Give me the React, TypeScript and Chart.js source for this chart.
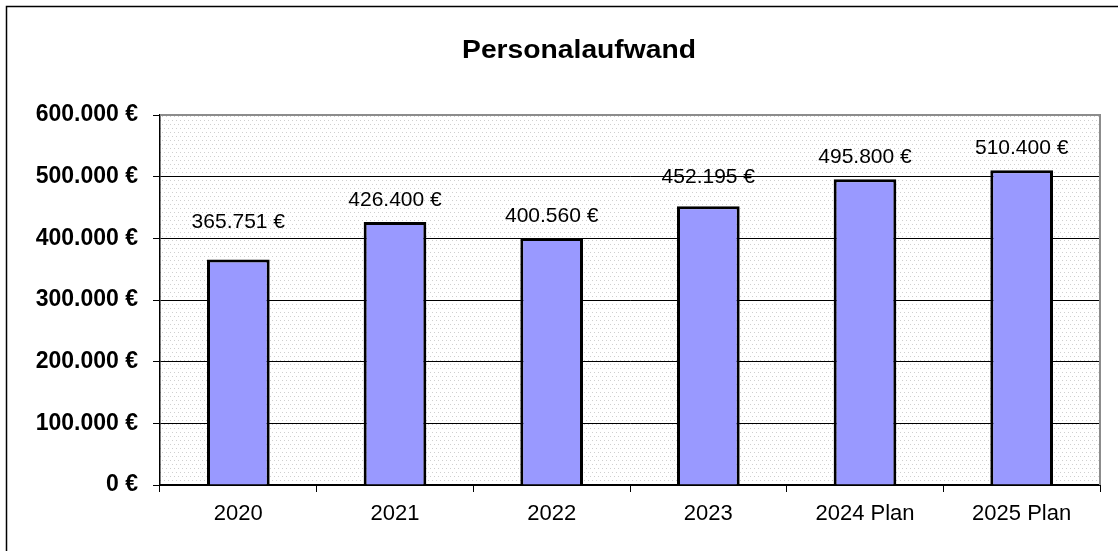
import React, { useEffect, useRef } from "react";
import { Chart, registerables } from "chart.js";

Chart.register(...registerables);

const FONT = "'Liberation Sans', Arial, sans-serif";

const title = "Personalaufwand";
const categories = ["2020", "2021", "2022", "2023", "2024 Plan", "2025 Plan"];
const values = [365751, 426400, 400560, 452195, 495800, 510400];
const yTickValues = [0, 100000, 200000, 300000, 400000, 500000, 600000];
// vertical distance (px) between bar top and label baseline, as placed in the original
const labelLift = [31, 16, 16, 23, 16.5, 16];

function euro(v: number): string {
  const s = String(Math.round(v)).replace(/\B(?=(\d{3})+(?!\d))/g, ".");
  return s + " €";
}

function makePattern(ctx: CanvasRenderingContext2D): CanvasPattern | string {
  const c = document.createElement("canvas");
  c.width = 8;
  c.height = 8;
  const p = c.getContext("2d");
  if (!p) return "#fff";
  p.fillStyle = "#ffffff";
  p.fillRect(0, 0, 8, 8);
  p.fillStyle = "#cfcfcf";
  const dots = [
    [0, 0],
    [4, 0],
    [2, 4],
    [6, 4],
  ];
  dots.forEach(([x, y]) => p.fillRect(x, y, 1, 1));
  return ctx.createPattern(c, "repeat") || "#fff";
}

const framePlugin = {
  id: "frameAndLabels",
  beforeDraw(chart: any) {
    const { ctx, chartArea, width, height } = chart;
    ctx.save();
    ctx.fillStyle = "#ffffff";
    ctx.fillRect(0, 0, width, height);
    ctx.fillStyle = makePattern(ctx);
    ctx.fillRect(chartArea.left, chartArea.top, chartArea.right - chartArea.left, chartArea.bottom - chartArea.top);
    ctx.restore();
  },
  afterDatasetsDraw(chart: any) {
    const { ctx, chartArea } = chart;
    ctx.save();
    // value labels
    const meta = chart.getDatasetMeta(0);
    ctx.fillStyle = "#000";
    ctx.font = `21px ${FONT}`;
    ctx.textAlign = "center";
    ctx.textBaseline = "alphabetic";
    meta.data.forEach((el: any, i: number) => {
      ctx.fillText(euro(values[i]), el.x, el.y - labelLift[i]);
    });
    // top and right plot border (grey)
    ctx.strokeStyle = "#8c8c8c";
    ctx.lineWidth = 2;
    ctx.beginPath();
    ctx.moveTo(chartArea.left, chartArea.top);
    ctx.lineTo(chartArea.right, chartArea.top);
    ctx.lineTo(chartArea.right, chartArea.bottom);
    ctx.stroke();
    // outer frame (extends past the picture on the right and bottom)
    ctx.strokeStyle = "#000";
    ctx.lineWidth = 1.5;
    ctx.beginPath();
    ctx.moveTo(6.5, chart.height);
    ctx.lineTo(6.5, 6.5);
    ctx.lineTo(chart.width, 6.5);
    ctx.stroke();
    // title
    ctx.font = `bold 25px ${FONT}`;
    ctx.textAlign = "center";
    ctx.translate(579, 58);
    ctx.scale(1.13, 1);
    ctx.fillText(title, 0, 0);
    ctx.restore();
  },
};

export default function App() {
  const ref = useRef<HTMLCanvasElement | null>(null);

  useEffect(() => {
    if (!ref.current) return;
    const chart = new Chart(ref.current, {
      type: "bar",
      data: {
        labels: categories,
        datasets: [
          {
            data: values,
            backgroundColor: "#9999FF",
            borderColor: "#000000",
            borderWidth: 3,
            barPercentage: 0.4,
            categoryPercentage: 1,
          },
        ],
      },
      options: {
        responsive: false,
        animation: false,
        devicePixelRatio: 1,
        layout: { padding: { left: 0, right: 18, top: 115, bottom: 0 } },
        plugins: {
          legend: { display: false },
          tooltip: { enabled: false },
          title: { display: false },
        },
        scales: {
          x: {
            grid: { drawOnChartArea: false, drawTicks: true, tickLength: 7, color: "#000", offset: true },
            border: { color: "#000", width: 2 },
            ticks: { color: "#000", font: { family: FONT, size: 22 }, padding: 9, maxRotation: 0 },
            afterFit: (s: any) => {
              s.height = 66;
            },
          },
          y: {
            min: 0,
            max: 600000,
            afterBuildTicks: (s: any) => {
              s.ticks = yTickValues.map((v) => ({ value: v }));
            },
            ticks: {
              color: "#000",
              font: { family: FONT, size: 23, weight: "bold" },
              padding: 15,
              callback: (v: any) => euro(Number(v)),
            },
            grid: { color: "#000", lineWidth: 1, tickLength: 7 },
            border: { color: "#000", width: 1.5 },
            afterFit: (s: any) => {
              s.width = 160;
            },
          },
        },
      },
      plugins: [framePlugin],
    });
    return () => chart.destroy();
  }, []);

  return (
    <canvas
      ref={ref}
      width={1118}
      height={551}
      style={{ position: "fixed", left: 0, top: 0, width: 1118, height: 551 }}
    />
  );
}
